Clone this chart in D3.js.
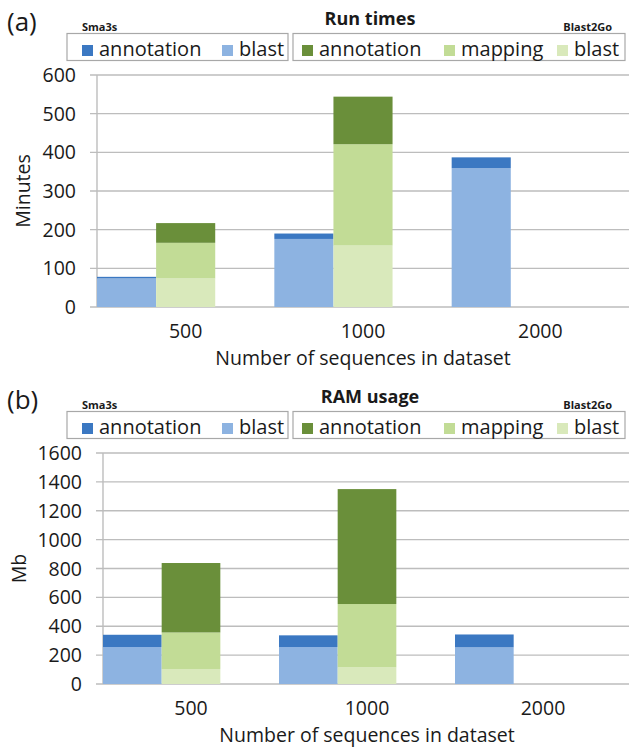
<!DOCTYPE html>
<html>
<head>
<meta charset="utf-8">
<script src="https://cdn.jsdelivr.net/npm/d3@7"></script>
<style>
  body { margin: 0; background: #fff; }
  svg { display: block; font-family: "Open Sans", sans-serif; }
</style>
</head>
<body>
<div id="chart"></div>
<script>
// Categories (number of sequences)
const categories = ["500", "1000", "2000"];

// Run times, minutes
const runSma3sBlast = [74, 176, 359];
const runSma3sAnnotation = [4, 14, 28];
const runB2gBlast = [74, 159, 0];
const runB2gMapping = [92, 262, 0];
const runB2gAnnotation = [51, 123, 0];

// RAM usage, Mb
const ramSma3sBlast = [256, 256, 254];
const ramSma3sAnnotation = [85, 81, 89];
const ramB2gBlast = [104, 115, 0];
const ramB2gMapping = [253, 439, 0];
const ramB2gAnnotation = [481, 796, 0];

const runTicks = [0, 100, 200, 300, 400, 500, 600];
const ramTicks = [0, 200, 400, 600, 800, 1000, 1200, 1400, 1600];

const colors = {
    sAnnotation: "#3b78c2",
    sBlast: "#8db3e1",
    bAnnotation: "#6a8f3a",
    bMapping: "#c2dc96",
    bBlast: "#d9e9bb"
};

const svg = d3.select("#chart")
    .append("svg")
    .attr("width", 629)
    .attr("height", 747);

function drawPanel(opts) {
    const g = svg.append("g").attr("transform", `translate(0,${opts.top})`);

    // build rows for stacking
    const sRows = categories.map((c, i) => ({ cat: c, blast: opts.sBlast[i], annotation: opts.sAnnotation[i] }));
    const bRows = categories.map((c, i) => ({ cat: c, blast: opts.bBlast[i], mapping: opts.bMapping[i], annotation: opts.bAnnotation[i] }));

    const x0 = d3.scaleBand()
        .domain(categories)
        .range([opts.left, opts.right])
        .padding(0);

    // third slot is left empty, like the original chart
    const x1 = d3.scaleBand()
        .domain(["Sma3s", "Blast2Go", "none"])
        .range([0, x0.bandwidth()])
        .padding(0);

    const y = d3.scaleLinear()
        .domain([0, opts.max])
        .range([opts.bottom, opts.plotTop]);

    // gridlines
    g.selectAll(".grid")
        .data(opts.ticks)
        .enter()
        .append("line")
        .attr("x1", opts.left - 7)
        .attr("x2", 629)
        .attr("y1", d => y(d))
        .attr("y2", d => y(d))
        .attr("stroke", "#bdbdbd")
        .attr("stroke-width", 1.4);

    // y axis line
    g.append("line")
        .attr("x1", opts.left)
        .attr("x2", opts.left)
        .attr("y1", y(opts.max))
        .attr("y2", y(0))
        .attr("stroke", "#bdbdbd")
        .attr("stroke-width", 1.4);

    // y tick labels
    g.selectAll(".ytick")
        .data(opts.ticks)
        .enter()
        .append("text")
        .attr("x", opts.left - 21)
        .attr("y", d => y(d))
        .attr("dy", "0.36em")
        .attr("text-anchor", "end")
        .style("font-size", "19.5px")
        .attr("fill", "#1a1a1a")
        .text(d => d);

    // y axis title
    g.append("text")
        .attr("transform", `translate(${opts.yTitleX},${(y(0) + y(opts.max)) / 2}) rotate(-90)`)
        .attr("text-anchor", "middle")
        .style("font-size", "19.5px")
        .attr("fill", "#1a1a1a")
        .text(opts.yTitle);

    const sStack = d3.stack().keys(["blast", "annotation"])(sRows);
    const bStack = d3.stack().keys(["blast", "mapping", "annotation"])(bRows);

    const sColor = { blast: colors.sBlast, annotation: colors.sAnnotation };
    const bColor = { blast: colors.bBlast, mapping: colors.bMapping, annotation: colors.bAnnotation };

    function drawStack(stack, group, colorMap) {
        stack.forEach(layer => {
            g.selectAll(null)
                .data(layer.filter(d => d[1] > d[0]))
                .enter()
                .append("rect")
                .attr("x", d => x0(d.data.cat) + x1(group))
                .attr("width", x1.bandwidth())
                .attr("y", d => y(d[1]))
                .attr("height", d => y(d[0]) - y(d[1]))
                .attr("fill", colorMap[layer.key]);
        });
    }
    drawStack(sStack, "Sma3s", sColor);
    drawStack(bStack, "Blast2Go", bColor);

    // x labels
    g.selectAll(".xtick")
        .data(categories)
        .enter()
        .append("text")
        .attr("x", d => x0(d) + x0.bandwidth() / 2)
        .attr("y", opts.bottom + opts.xLabelOffset)
        .attr("text-anchor", "middle")
        .style("font-size", "19.5px")
        .attr("fill", "#1a1a1a")
        .text(d => d);

    g.append("text")
        .attr("x", (opts.left + opts.right) / 2)
        .attr("y", opts.bottom + opts.xLabelOffset + opts.xTitleGap)
        .attr("text-anchor", "middle")
        .style("font-size", "19.5px")
        .attr("fill", "#1a1a1a")
        .text("Number of sequences in dataset");

    // panel letter + title
    g.append("text")
        .attr("x", 7)
        .attr("y", 31)
        .style("font-size", "26px")
        .attr("fill", "#1a1a1a")
        .text(opts.letter);

    g.append("text")
        .attr("x", 370)
        .attr("y", 25)
        .attr("text-anchor", "middle")
        .style("font-size", "18px")
        .style("font-weight", "bold")
        .attr("fill", "#1a1a1a")
        .text(opts.title);

    // legends
    const legends = [
        { name: "Sma3s", box: [67, 288], labelX: 82, labelAnchor: "start",
          items: [["annotation", colors.sAnnotation, 82], ["blast", colors.sBlast, 222]] },
        { name: "Blast2Go", box: [293, 625], labelX: 612, labelAnchor: "end",
          items: [["annotation", colors.bAnnotation, 302], ["mapping", colors.bMapping, 444], ["blast", colors.bBlast, 557]] }
    ];

    legends.forEach(lg => {
        g.append("text")
            .attr("x", lg.labelX)
            .attr("y", 31)
            .attr("text-anchor", lg.labelAnchor)
            .style("font-size", "11px")
            .style("font-weight", "bold")
            .attr("fill", "#1a1a1a")
            .text(lg.name);

        g.append("rect")
            .attr("x", lg.box[0])
            .attr("y", 33.5)
            .attr("width", lg.box[1] - lg.box[0])
            .attr("height", 27)
            .attr("fill", "none")
            .attr("stroke", "#a8a8a8")
            .attr("stroke-width", 1.2);

        lg.items.forEach(it => {
            g.append("rect")
                .attr("x", it[2])
                .attr("y", 45)
                .attr("width", 11)
                .attr("height", 11)
                .attr("fill", it[1]);
            g.append("text")
                .attr("x", it[2] + 17)
                .attr("y", 56)
                .style("font-size", "20px")
                .attr("fill", "#1a1a1a")
                .text(it[0]);
        });
    });
}

drawPanel({
    top: 0, letter: "(a)", title: "Run times", yTitle: "Minutes", yTitleX: 30,
    left: 97, right: 629, plotTop: 75, bottom: 307, max: 600, ticks: runTicks,
    xLabelOffset: 31, xTitleGap: 27,
    sBlast: runSma3sBlast, sAnnotation: runSma3sAnnotation,
    bBlast: runB2gBlast, bMapping: runB2gMapping, bAnnotation: runB2gAnnotation
});

drawPanel({
    top: 378, letter: "(b)", title: "RAM usage", yTitle: "Mb", yTitleX: 26,
    left: 103, right: 631, plotTop: 453 - 378, bottom: 684 - 378, max: 1600, ticks: ramTicks,
    xLabelOffset: 31, xTitleGap: 27,
    sBlast: ramSma3sBlast, sAnnotation: ramSma3sAnnotation,
    bBlast: ramB2gBlast, bMapping: ramB2gMapping, bAnnotation: ramB2gAnnotation
});
</script>
</body>
</html>
